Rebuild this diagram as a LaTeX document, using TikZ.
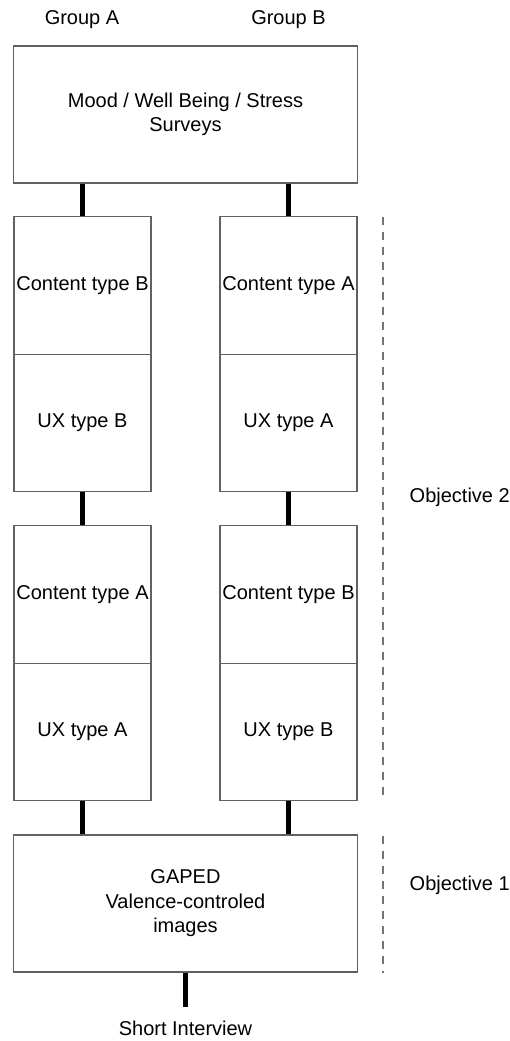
\documentclass[tikz,border=0pt]{standalone}
\usepackage{fontspec}
\setmainfont{Liberation Sans}
\begin{document}
\begin{tikzpicture}[x=1pt,y=-1pt,
  box/.style={draw=black!62,line width=1.2pt,fill=white,inner sep=0pt,align=center,font=\fontsize{20}{24.5}\selectfont},
  colbox/.style={box,minimum width=137pt,minimum height=137.5pt},
  widebox/.style={box,minimum width=344pt,minimum height=137pt},
  link/.style={line width=4.2pt,black},
  lbl/.style={font=\fontsize{20}{24.5}\selectfont,inner sep=0pt},
  objline/.style={draw=black!55,line width=1.5pt,dash pattern=on 8pt off 7pt}]
\useasboundingbox (0,0) rectangle (510,1041);
\node[lbl] (ga) at (82,20) {Group A};
\node[lbl] (gb) at (288.5,20) {Group B};
\node[widebox] (top) at (185.5,114.5) {Mood / Well Being / Stress\\Surveys};
\node[colbox] (c1) at (82.5,285.5) {Content type B};
\node[colbox] (u1) at (82.5,423) {UX type B};
\node[colbox] (c2) at (82.5,594.5) {Content type A};
\node[colbox] (u2) at (82.5,732) {UX type A};
\node[colbox] (c3) at (288.5,285.5) {Content type A};
\node[colbox] (u3) at (288.5,423) {UX type A};
\node[colbox] (c4) at (288.5,594.5) {Content type B};
\node[colbox] (u4) at (288.5,732) {UX type B};
\node[widebox] (gaped) at (185.5,903.5) {GAPED\\Valence-controled\\images};
\node[lbl] (si) at (185.5,1028) {Short Interview};
\coordinate (siTop) at (185.5,1007);
\draw[link] (top.south -| c1.north) -- (c1.north);
\draw[link] (top.south -| c3.north) -- (c3.north);
\draw[link] (u1.south) -- (c2.north);
\draw[link] (u3.south) -- (c4.north);
\draw[link] (u2.south) -- (gaped.north -| u2.south);
\draw[link] (u4.south) -- (gaped.north -| u4.south);
\draw[link] (gaped.south) -- (siTop);
\coordinate (o2a) at (383,217);
\coordinate (o2b) at (383,800);
\coordinate (o1a) at (383,836);
\coordinate (o1b) at (383,973);
\draw[objline] (o2a) -- (o2b);
\draw[objline] (o1a) -- (o1b);
\node[lbl,anchor=west] (ob2) at (409.5,497) {Objective 2};
\node[lbl,anchor=west] (ob1) at (409.5,885) {Objective 1};
\end{tikzpicture}
\end{document}
